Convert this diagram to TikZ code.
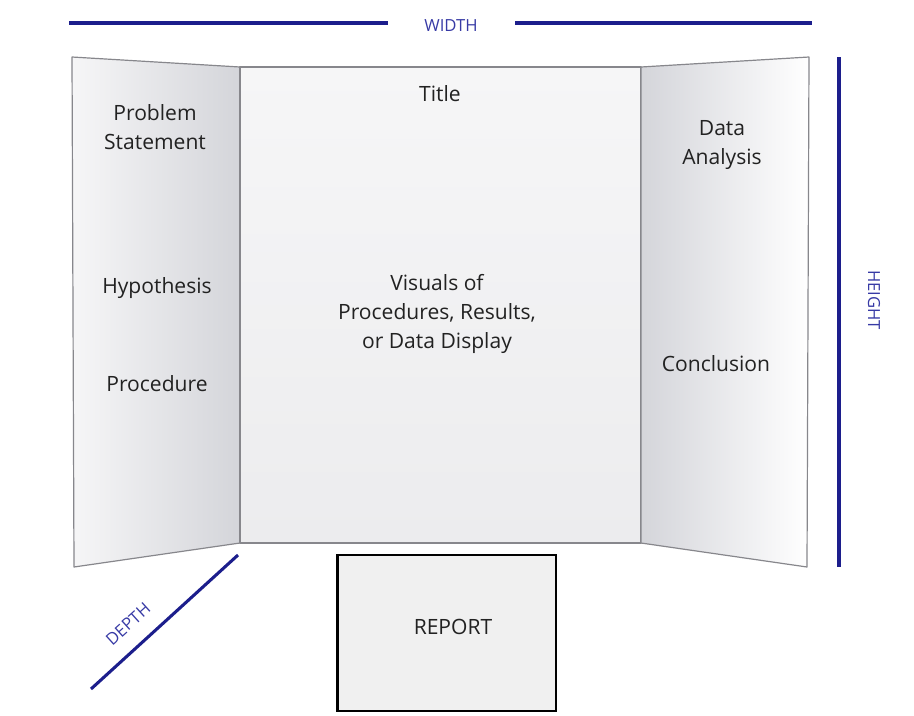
\documentclass[tikz,border=0pt]{standalone}
\usepackage{fontspec}
\setmainfont{Open Sans}
\usetikzlibrary{positioning}
\definecolor{dimblue}{RGB}{28,30,140}
\definecolor{dimtext}{RGB}{55,58,165}
\definecolor{boardedge}{RGB}{135,135,140}
\definecolor{foldgray}{RGB}{212,213,218}
\definecolor{boardgray}{RGB}{236,236,238}
\definecolor{boardlight}{RGB}{246,246,247}
\definecolor{reportgray}{RGB}{240,240,240}
\definecolor{inktext}{RGB}{34,34,34}
\tikzset{
  panel/.style={draw=boardedge,line width=0.9pt,line join=round},
  paneltext/.style={align=center,font=\fontsize{15.8}{21.8}\selectfont,text=inktext,inner sep=0pt},
  dimline/.style={draw=dimblue,line width=2.3pt},
  dimlabel/.style={font=\fontsize{12.5}{14}\selectfont,text=dimtext,inner sep=0pt},
  reportbox/.style={draw=black,line width=2pt,fill=reportgray,minimum width=164pt,minimum height=117pt}
}
\begin{document}
\begin{tikzpicture}[x=0.75pt,y=-0.75pt]
  \useasboundingbox (0,0) rectangle (914,715);
  % corners of the tri-fold board
  \coordinate (ltop) at (72,57);   \coordinate (lbot) at (74,567);
  \coordinate (ftl) at (240,67);   \coordinate (fbl) at (240,543);
  \coordinate (ftr) at (641,67);   \coordinate (fbr) at (641,543);
  \coordinate (rtop) at (809,57);  \coordinate (rbot) at (807,567);
  % panels
  \path[panel,left color=boardlight,right color=foldgray] (ltop) -- (ftl) -- (fbl) -- (lbot) -- cycle;
  \path[panel,top color=boardlight,bottom color=boardgray] (ftl) rectangle (fbr);
  \path[panel,left color=foldgray,right color=white] (ftr) -- (rtop) -- (rbot) -- (fbr) -- cycle;
  % panel texts
  \node[paneltext] (prob) at (155,127) {Problem\\Statement};
  \node[paneltext] (hyp) at (157,288) {Hypothesis};
  \node[paneltext] (proc) at (157,384) {Procedure};
  \node[paneltext] (title) at (440,94) {Title};
  \node[paneltext] (vis) at (437,314) {Visuals of\\Procedures, Results,\\or Data Display};
  \node[paneltext] (data) at (722,145) {Data\\Analysis};
  \node[paneltext] (concl) at (716,364) {Conclusion};
  % report
  \node[reportbox] (report) at (446.5,633) {};
  \node[paneltext] (replab) at (453,627) {REPORT};
  % dimensions
  \coordinate (wa) at (69,23);  \coordinate (wb) at (388,23);
  \coordinate (wc) at (515,23); \coordinate (wd) at (812,23);
  \draw[dimline] (wa) -- (wb); \draw[dimline] (wc) -- (wd);
  \node[dimlabel] (width) at (451,26) {WIDTH};
  \coordinate (ha) at (839,57); \coordinate (hb) at (839,567);
  \draw[dimline] (ha) -- (hb);
  \node[dimlabel,rotate=-90] (height) at (874,300) {HEIGHT};
  \coordinate (da) at (91,689); \coordinate (db) at (238,555);
  \draw[dimline] (da) -- (db);
  \node[dimlabel,rotate=42] (depth) at (128,624) {DEPTH};
\end{tikzpicture}
\end{document}
